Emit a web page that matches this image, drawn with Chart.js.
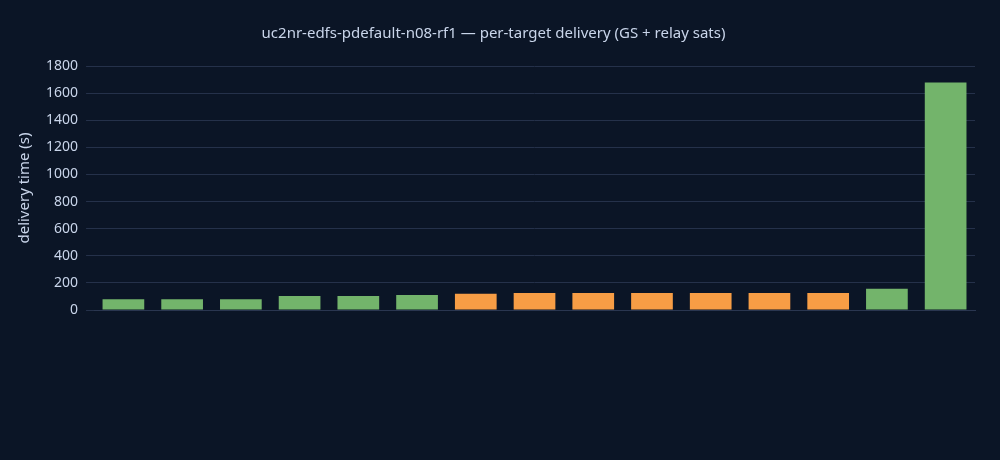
<!DOCTYPE html>
<html>
<head>
<meta charset="utf-8">
<script src="https://cdn.jsdelivr.net/npm/chart.js@4"></script>
<style>
  html, body { margin: 0; background: #0b1526; }
  #wrap { width: 1000px; height: 460px; }
</style>
</head>
<body>
<div id="wrap"><canvas id="c"></canvas></div>
<script>
/* ================= DATA ================= */
const targets = ["oneweb-0173", "lemur-2-squirrelcomm", "flock-4h-9", "orbcomm-fm06", "iridium-116",
  "oneweb-0614", "estrack-malargue", "estrack-cebreros", "estrack-kourou", "estrack-kiruna",
  "estrack-santa-maria", "estrack-redu", "estrack-new-norcia", "flock-4be-17", "globalstar-m087"];
const deliveryTimes = [79, 79, 79, 104, 104, 111, 119, 126, 126, 126, 126, 126, 126, 156, 1678];
const isGroundStation = [false, false, false, false, false, false, true, true, true, true, true, true, true, false, false];
const yTicks = [0, 200, 400, 600, 800, 1000, 1200, 1400, 1600, 1800];

const GREEN = "#73b46b";
const ORANGE = "#f79d45";
const TEXT = "#c9d5ea";
const FONT = "'Noto Sans', sans-serif";

/* ================= ROTATED X LABELS ================= */
const slantLabels = {
    id: "slantLabels",
    afterDraw(chart) {
        const ctx = chart.ctx;
        const x = chart.scales.x;
        ctx.save();
        ctx.fillStyle = TEXT;
        ctx.font = "14px " + FONT;
        ctx.textAlign = "left";
        ctx.textBaseline = "middle";
        targets.forEach((name, i) => {
            ctx.save();
            ctx.translate(x.getPixelForValue(i) - 4, x.bottom + 12);
            ctx.rotate(Math.PI / 4);
            ctx.fillText(name, 0, 0);
            ctx.restore();
        });
        ctx.restore();
    }
};

new Chart(document.getElementById("c"), {
    type: "bar",
    data: {
        labels: targets,
        datasets: [{
            data: deliveryTimes,
            backgroundColor: isGroundStation.map(g => g ? ORANGE : GREEN),
            borderWidth: 0,
            barPercentage: 0.71,
            categoryPercentage: 1
        }]
    },
    options: {
        responsive: true,
        maintainAspectRatio: false,
        animation: false,
        layout: { padding: { left: 12, right: 25, top: 11, bottom: 0 } },
        plugins: {
            legend: { display: false },
            tooltip: { enabled: false },
            title: {
                display: true,
                text: "uc2nr-edfs-pdefault-n08-rf1 — per-target delivery (GS + relay sats)",
                color: TEXT,
                font: { family: FONT, size: 15, weight: "normal" },
                padding: { top: 14, bottom: 23 }
            }
        },
        scales: {
            x: {
                grid: { display: false },
                border: { color: "#2a3650" },
                ticks: { display: false },
                afterFit: s => { s.height = 150; }
            },
            y: {
                min: 0,
                max: 1800,
                afterBuildTicks: s => { s.ticks = yTicks.map(v => ({ value: v })); },
                grid: { color: "#25314a" },
                border: { display: false },
                ticks: { color: TEXT, font: { family: FONT, size: 14 }, padding: 8, callback: v => String(v) },
                title: { display: true, text: "delivery time (s)", color: TEXT, font: { family: FONT, size: 15 } }
            }
        }
    },
    plugins: [slantLabels]
});
</script>
</body>
</html>
